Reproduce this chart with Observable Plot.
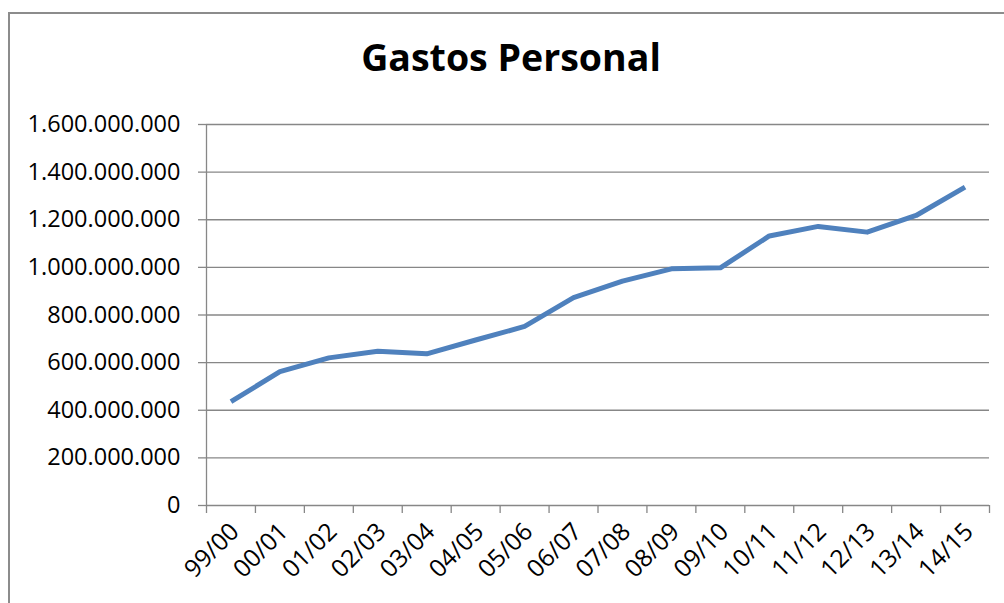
<!DOCTYPE html>
<html>
<head>
<meta charset="utf-8">
<script src="https://cdn.jsdelivr.net/npm/d3@7"></script>
<script src="https://cdn.jsdelivr.net/npm/@observablehq/plot@0.6"></script>
<style>
  html, body { margin: 0; padding: 0; background: #fff; }
  #wrap { position: relative; width: 1004px; height: 603px; overflow: hidden; }
  #frame { position: absolute; left: 8px; top: 12px; width: 1100px; height: 700px;
           border-left: 2px solid #8c8c8c; border-top: 2px solid #8c8c8c; box-sizing: border-box; }
  #title { position: absolute; left: 0; width: 1022px; top: 38px; text-align: center;
           font-family: "Open Sans", sans-serif; font-weight: 700; font-size: 37.5px; line-height: 1; color: #000; }
  #chart { position: absolute; left: 0; top: 0; }
</style>
</head>
<body>
<div id="wrap">
  <div id="frame"></div>
  <div id="chart"></div>
  <div id="title">Gastos Personal</div>
</div>
<script>
const title = "Gastos Personal";
const categories = ["99/00","00/01","01/02","02/03","03/04","04/05","05/06","06/07","07/08","08/09","09/10","10/11","11/12","12/13","13/14","14/15"];
const values = [436000000, 562000000, 620000000, 648000000, 637000000, 695000000, 752000000, 873000000, 942000000, 994000000, 998000000, 1132000000, 1172000000, 1148000000, 1218000000, 1337000000];
const yTicks = [0, 200000000, 400000000, 600000000, 800000000, 1000000000, 1200000000, 1400000000, 1600000000];

const data = categories.map((c, i) => ({cat: c, idx: i + 0.5, value: values[i]}));
const edges = d3.range(categories.length + 1);
const fmt = d3.formatLocale({decimal: ",", thousands: ".", grouping: [3], currency: ["", ""]}).format(",");

const gray = "#878787";
const font = "Open Sans, sans-serif";

const chart = Plot.plot({
  width: 1004,
  height: 603,
  marginLeft: 206,
  marginRight: 15,
  marginTop: 124,
  marginBottom: 98,
  style: {fontFamily: font, fontSize: "23px", color: "#000", background: "transparent", overflow: "visible"},
  x: {type: "linear", domain: [0, categories.length], axis: null},
  y: {domain: [0, 1600000000], axis: null},
  marks: [
    Plot.ruleY(yTicks, {stroke: gray, strokeWidth: 1.3, strokeOpacity: 1}),
    Plot.ruleX([0], {stroke: gray, strokeWidth: 1.3}),
    Plot.axisY({ticks: yTicks, tickFormat: fmt, tickSize: 8, tickPadding: 18, stroke: gray, strokeWidth: 1.3, strokeOpacity: 1, fontSize: 23.5, fill: "#000", label: null}),
    Plot.axisX({ticks: edges, tickFormat: () => "", tickSize: 8, stroke: gray, strokeWidth: 1.3, strokeOpacity: 1, label: null}),
    Plot.text(data, {x: "idx", y: () => 0, text: "cat", frameAnchor: "bottom", rotate: -45, textAnchor: "end", lineAnchor: "middle", dx: 4, dy: 22, fontSize: 24.5, fill: "#000"}),
    Plot.line(data, {x: "idx", y: "value", stroke: "#4f81bd", strokeWidth: 5, strokeLinejoin: "round", strokeLinecap: "butt"})
  ]
});
document.getElementById("chart").appendChild(chart);
</script>
</body>
</html>
